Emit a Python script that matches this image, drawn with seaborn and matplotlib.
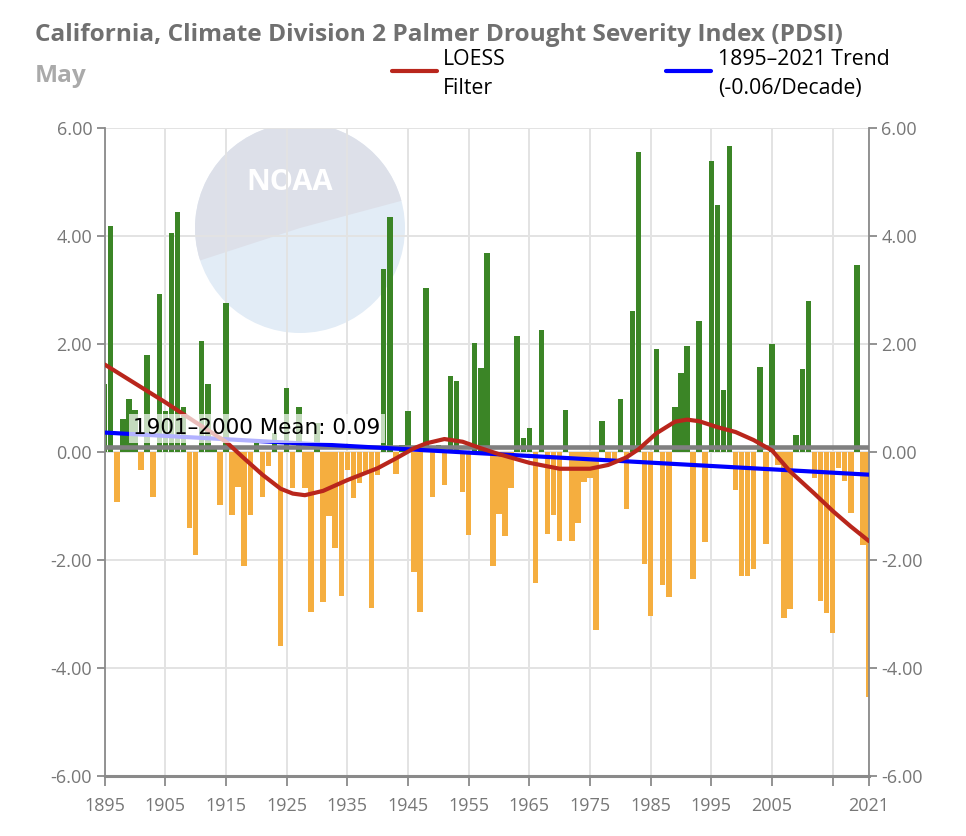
import numpy as np
import pandas as pd
import matplotlib
matplotlib.use("Agg")
import matplotlib.pyplot as plt
import seaborn as sns
from matplotlib.patches import Circle, Wedge
from matplotlib.lines import Line2D

years = np.arange(1895, 2022)
pdsi = [
    1.26, 4.19, -0.92, 0.61, 0.98, 0.78, -0.33, 1.80, -0.83, 2.92,    # 1895-1904
    0.76, 4.06, 4.44, 0.83, -1.41, -1.91, 2.06, 1.25, 0.10, -0.99,    # 1905-1914
    2.76, -1.17, -0.64, -2.12, -1.16, 0.20, -0.84, -0.26, 0.35, -3.59,  # 1915-1924
    1.18, -0.67, 0.83, -0.67, -2.96, 0.53, -2.77, -1.19, -1.77, -2.67,  # 1925-1934
    -0.33, -0.86, -0.58, -0.41, -2.89, -0.43, 3.39, 4.36, -0.40, 0.13,  # 1935-1944
    0.75, -2.22, -2.97, 3.04, -0.83, 0.13, -0.62, 1.40, 1.32, -0.75,   # 1945-1954
    -1.54, 2.02, 1.56, 3.68, -2.12, -1.14, -1.55, -0.66, 2.15, 0.25,   # 1955-1964
    0.44, -2.43, 2.26, -1.52, -1.16, -1.64, 0.78, -1.65, -1.31, -0.55,  # 1965-1974
    -0.49, -3.30, 0.57, -0.13, -0.13, 0.98, -1.05, 2.62, 5.56, -2.08,  # 1975-1984
    -3.03, 1.91, -2.47, -2.69, 0.83, 1.46, 1.97, -2.36, 2.43, -1.67,   # 1985-1994
    5.39, 4.58, 1.15, 5.67, -0.71, -2.29, -2.29, -2.17, 1.57, -1.71,   # 1995-2004
    2.00, -0.25, -3.08, -2.90, 0.31, 1.54, 2.80, -0.49, -2.76, -2.99,  # 2005-2014
    -3.35, -0.30, -0.54, -1.13, 3.46, -1.72, -4.54,                    # 2015-2021
]
assert len(pdsi) == len(years)

loess_years = [1895, 1900, 1905, 1910, 1915, 1918, 1921, 1924, 1926, 1928,
               1931, 1935, 1940, 1943, 1946, 1948, 1951, 1954, 1957, 1960,
               1965, 1970, 1975, 1978, 1981, 1983, 1986, 1989, 1991, 1993,
               1996, 1999, 2002, 2005, 2008, 2012, 2015, 2018, 2021]
loess_vals = [1.62, 1.27, 0.92, 0.55, 0.19, -0.12, -0.42, -0.68, -0.77, -0.80,
              -0.72, -0.52, -0.30, -0.12, 0.07, 0.16, 0.24, 0.19, 0.07, -0.04,
              -0.20, -0.31, -0.31, -0.24, -0.10, 0.05, 0.35, 0.56, 0.60, 0.57,
              0.46, 0.37, 0.22, 0.03, -0.36, -0.77, -1.09, -1.38, -1.65]

trend_years = [1895, 2021]
trend_vals = [0.36, -0.42]
mean_value = 0.09

y_ticks = [-6, -4, -2, 0, 2, 4, 6]
x_ticks = [1895, 1905, 1915, 1925, 1935, 1945, 1955, 1965, 1975, 1985, 1995, 2005, 2015, 2021]
x_labels = ["1895", "1905", "1915", "1925", "1935", "1945", "1955", "1965", "1975",
            "1985", "1995", "2005", "", "2021"]

GREEN = "#3b8526"
ORANGE = "#f5ae3f"
RED = "#b9261c"
BLUE = "#0000ff"
MEAN_GRAY = "#808080"
AXIS_GRAY = "#8a8a8a"
TEXT_GRAY = "#707070"

sns.set_theme(style="white")
plt.rcParams["font.family"] = ["Open Sans", "DejaVu Sans"]

W, H = 966, 836
fig = plt.figure(figsize=(W / 100, H / 100), dpi=100)
ax = fig.add_axes([104.7 / W, 60 / H, 764.3 / W, 648 / H])

# NOAA watermark (rough)
cx, cy, r = 3.00, (H - 228) / 100, 1.05
ax.add_patch(Circle((cx, cy), r, transform=fig.dpi_scale_trans,
                    facecolor="#e2ecf6", edgecolor="none", zorder=0.1))
ax.add_patch(Wedge((cx, cy), r, 15, 198, transform=fig.dpi_scale_trans,
                   facecolor="#dde0e9", edgecolor="none", zorder=0.15))
ax.text(cx - 0.1, cy + 0.45, "NOAA", transform=fig.dpi_scale_trans, ha="center", va="center",
        fontsize=21, fontweight="bold", color="white", zorder=0.2)

df = pd.DataFrame({"year": years, "pdsi": pdsi})
df["sign"] = np.where(df["pdsi"] >= 0, "wet", "dry")

sns.barplot(data=df, x="year", y="pdsi", hue="sign",
            palette={"wet": GREEN, "dry": ORANGE}, native_scale=True,
            dodge=False, width=0.9, saturation=1, errorbar=None,
            linewidth=0, legend=False, ax=ax, zorder=2)

sns.lineplot(x=[years[0], years[-1]], y=[mean_value, mean_value], color=MEAN_GRAY,
             lw=3.3, ax=ax, zorder=3)
sns.lineplot(x=trend_years, y=trend_vals, color=BLUE, lw=3, ax=ax, zorder=4)
sns.lineplot(x=loess_years, y=loess_vals, color=RED, lw=3, ax=ax, zorder=5)

ax.text(1899.7, 0.44, "1901\u20132000 Mean: 0.09", family="DejaVu Sans", fontsize=15.5,
        color="black", ha="left", va="center", zorder=6,
        bbox=dict(boxstyle="square,pad=0.2", facecolor="white", alpha=0.7, edgecolor="none"))

ax.set_xlim(1895, 2021)
ax.set_ylim(-6, 6)
ax.set_yticks(y_ticks)
ax.set_yticklabels([f"{v:.2f}" for v in y_ticks])
ax.set_xticks(x_ticks)
ax.set_xticklabels(x_labels)
ax.set_xlabel("")
ax.set_ylabel("")

ax.set_axisbelow(True)
ax.grid(True, color="#e3e3e3", lw=1.4)
for side in ["left", "right"]:
    ax.spines[side].set_color(AXIS_GRAY)
    ax.spines[side].set_linewidth(1.3)
ax.spines["bottom"].set_color(AXIS_GRAY)
ax.spines["bottom"].set_linewidth(2.2)
ax.spines["top"].set_visible(False)

ax.tick_params(axis="y", left=True, right=True, labelleft=True, labelright=True,
               length=6, width=1.3, color=AXIS_GRAY, labelcolor="#777777",
               labelsize=13, pad=3)
ax.tick_params(axis="x", bottom=True, length=7, width=1.3, color=AXIS_GRAY,
               labelcolor="#777777", labelsize=13, pad=8)

# title block
fig.text(35 / W, 1 - 35 / H, "California, Climate Division 2 Palmer Drought Severity Index (PDSI)",
         fontsize=17.6, fontweight="bold", color=TEXT_GRAY, ha="left", va="center")
fig.text(35 / W, 1 - 76 / H, "May", fontsize=17.6, fontweight="bold", color="#aaaaaa",
         ha="left", va="center")

# legend
fig.add_artist(Line2D([392 / W, 437 / W], [1 - 71 / H, 1 - 71 / H], color=RED, lw=3))
fig.text(443 / W, 1 - 74 / H, "LOESS\nFilter", fontsize=15.3, color="black",
         ha="left", va="center", linespacing=1.45)
fig.add_artist(Line2D([666 / W, 711 / W], [1 - 71 / H, 1 - 71 / H], color=BLUE, lw=3))
fig.text(718 / W, 1 - 74 / H, "1895\u20132021 Trend\n(-0.06/Decade)", fontsize=15.3,
         color="black", ha="left", va="center", linespacing=1.45)

fig.savefig("out.png", dpi=100, facecolor="white")
